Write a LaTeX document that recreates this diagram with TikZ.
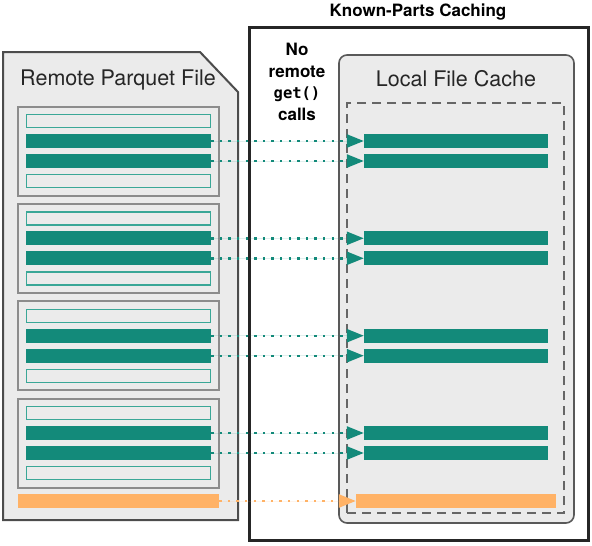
\documentclass[tikz,border=0pt]{standalone}
\usepackage{fontspec}
\setmainfont{TeX Gyre Heros}
\setsansfont{TeX Gyre Heros}
\setmonofont{DejaVu Sans Mono}
\usepackage{tikz}
\usetikzlibrary{arrows.meta}

\definecolor{partteal}{HTML}{138A7A}
\definecolor{partline}{HTML}{3AA797}
\definecolor{footorange}{HTML}{FFB266}
\definecolor{filegray}{HTML}{EBEBEB}

\begin{document}
\begin{tikzpicture}[
  x=1pt, y=-1pt,
  font=\sffamily,
  >={Triangle[length=17pt,width=13pt]},
  title/.style={font=\sffamily\fontsize{21.5}{24}\selectfont, text=black!85},
  heading/.style={font=\sffamily\bfseries\fontsize{17}{21.5}\selectfont},
  group/.style={draw=black!45, fill=filegray, line width=2pt,
    minimum width=201pt, minimum height=89pt, inner sep=0pt},
  part/.style={fill=partteal, minimum width=185pt, minimum height=14pt, inner sep=0pt},
  skip/.style={draw=partline, fill=filegray, line width=1.4pt,
    minimum width=184pt, minimum height=13pt, inner sep=0pt},
  footer/.style={fill=footorange, minimum height=14pt, inner sep=0pt},
  fetch/.style={->, draw=partteal, fill=partteal, line width=2.4pt, dash pattern=on 2.4pt off 6.2pt},
  fetchfoot/.style={fetch, draw=footorange, fill=footorange}
]
  \useasboundingbox (0,0) rectangle (592,546);

  % remote file
  \draw[fill=filegray, draw=black!70, line width=2pt]
    (3,52) -- (200,52) -- (238,92) -- (238,520) -- (3,520) -- cycle;
  \node[title] (remote) at (118,80) {Remote Parquet File};

  \node[group] (g1) at (118.5,151) {};
  \node[skip] (g1a) at (118.5,121) {};
  \node[part] (g1b) at (118.5,141) {};
  \node[part] (g1c) at (118.5,161) {};
  \node[skip] (g1d) at (118.5,181) {};

  \node[group] (g2) at (118.5,248.3) {};
  \node[skip] (g2a) at (118.5,218.3) {};
  \node[part] (g2b) at (118.5,238.3) {};
  \node[part] (g2c) at (118.5,258.3) {};
  \node[skip] (g2d) at (118.5,278.3) {};

  \node[group] (g3) at (118.5,345.7) {};
  \node[skip] (g3a) at (118.5,315.7) {};
  \node[part] (g3b) at (118.5,335.7) {};
  \node[part] (g3c) at (118.5,355.7) {};
  \node[skip] (g3d) at (118.5,375.7) {};

  \node[group] (g4) at (118.5,443) {};
  \node[skip] (g4a) at (118.5,413) {};
  \node[part] (g4b) at (118.5,433) {};
  \node[part] (g4c) at (118.5,453) {};
  \node[skip] (g4d) at (118.5,473) {};

  \node[footer, minimum width=201pt] (foot) at (118.5,501) {};

  % known-parts side
  \node[heading] (known) at (418,12) {Known-Parts Caching};
  \node[draw=black!85, line width=3pt, minimum width=339pt, minimum height=513pt,
    inner sep=0pt] (kbox) at (418.5,283.5) {};
  \node[heading, align=center, inner sep=0pt] (noget) at (297,82)
    {No\\remote\\{\ttfamily\bfseries\fontsize{15.5}{20}\selectfont get()}\\calls};

  \node[draw=black!65, fill=filegray, line width=1.6pt, rounded corners=8pt,
    minimum width=235pt, minimum height=468pt, inner sep=0pt] (cache) at (456.5,289) {};
  \node[title] (cachetitle) at (456,79) {Local File Cache};
  \node[draw=black!60, line width=2.8pt, dash pattern=on 9pt off 6pt,
    minimum width=217pt, minimum height=410pt, inner sep=0pt] (store) at (455.5,308) {};

  \node[part, minimum width=184pt] (c1b) at (456,141) {};
  \node[part, minimum width=184pt] (c1c) at (456,161) {};
  \node[part, minimum width=184pt] (c2b) at (456,238.3) {};
  \node[part, minimum width=184pt] (c2c) at (456,258.3) {};
  \node[part, minimum width=184pt] (c3b) at (456,335.7) {};
  \node[part, minimum width=184pt] (c3c) at (456,355.7) {};
  \node[part, minimum width=184pt] (c4b) at (456,433) {};
  \node[part, minimum width=184pt] (c4c) at (456,453) {};
  \node[footer, minimum width=200pt] (cfoot) at (456,501) {};

  \draw[fetch] (g1b) -- (c1b);
  \draw[fetch] (g1c) -- (c1c);
  \draw[fetch] (g2b) -- (c2b);
  \draw[fetch] (g2c) -- (c2c);
  \draw[fetch] (g3b) -- (c3b);
  \draw[fetch] (g3c) -- (c3c);
  \draw[fetch] (g4b) -- (c4b);
  \draw[fetch] (g4c) -- (c4c);
  \draw[fetchfoot] (foot) -- (cfoot);
\end{tikzpicture}
\end{document}
